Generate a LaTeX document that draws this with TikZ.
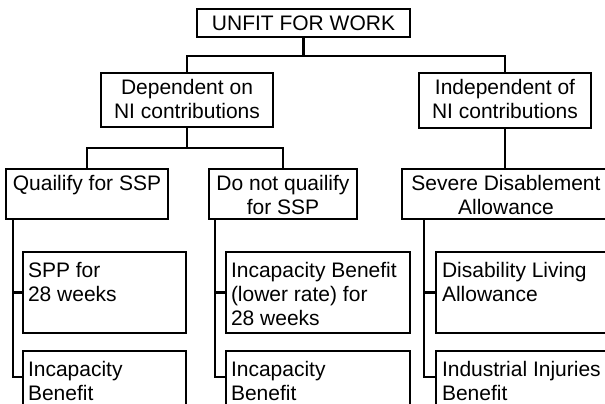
\documentclass[tikz,border=0pt]{standalone}
\usepackage{fontspec}
\setmainfont{Liberation Sans}
\newcommand\myst{\rule{0pt}{16pt}}
\tikzset{
  box/.style={draw, line width=1.1pt, inner sep=0pt, outer sep=0pt, anchor=north west},
  ctext/.style={anchor=north, inner sep=0pt, outer sep=0pt, align=center, font=\fontsize{21}{24}\selectfont},
  ltext/.style={anchor=north west, inner sep=0pt, outer sep=0pt, align=left, font=\fontsize{21}{24}\selectfont},
  conn/.style={draw, line width=2.6pt}
}
\begin{document}
\begin{tikzpicture}[x=1pt, y=-1pt]
\useasboundingbox (0,0) rectangle (605,404);
\clip (0,0) rectangle (605,404);
\fill[white] (0,0) rectangle (605,404);
% boxes
\node[box, minimum width=213pt, minimum height=28pt] (root) at (197,9) {};
\node[box, minimum width=172pt, minimum height=54pt] (dep) at (101,73) {};
\node[box, minimum width=172pt, minimum height=55pt] (ind) at (419,73) {};
\node[box, minimum width=162pt, minimum height=50pt] (qual) at (6,169) {};
\node[box, minimum width=148pt, minimum height=50pt] (donot) at (209,169) {};
\node[box, minimum width=208pt, minimum height=50pt] (sev) at (402,169) {};
\node[box, minimum width=163pt, minimum height=81pt] (a1) at (23,252) {};
\node[box, minimum width=163pt, minimum height=80pt] (a2) at (23,351) {};
\node[box, minimum width=184pt, minimum height=81pt] (b1) at (226,252) {};
\node[box, minimum width=184pt, minimum height=80pt] (b2) at (226,351) {};
\node[box, minimum width=190pt, minimum height=81pt] (c1) at (436,252) {};
\node[box, minimum width=190pt, minimum height=80pt] (c2) at (436,351) {};
% texts
\node[ctext] (troot) at ([yshift=-5.5pt]root.north) {\myst UNFIT FOR WORK};
\node[ctext] (tdep) at ([yshift=-5.5pt]dep.north) {\myst Dependent on\\NI contributions};
\node[ctext] (tind) at ([yshift=-5.5pt]ind.north) {\myst Independent of\\NI contributions};
\node[ctext] (tqual) at ([yshift=-5.5pt]qual.north) {\myst Quailify for SSP};
\node[ctext] (tdonot) at ([yshift=-5.5pt]donot.north) {\myst Do not quailify\\for SSP};
\node[ctext] (tsev) at ([yshift=-5.5pt]sev.north) {\myst Severe Disablement\\Allowance};
\node[ltext] (ta1) at ([xshift=5pt,yshift=-9pt]a1.north west) {\myst SPP for\\28 weeks};
\node[ltext] (ta2) at ([xshift=5pt,yshift=-9pt]a2.north west) {\myst Incapacity\\Benefit};
\node[ltext] (tb1) at ([xshift=5pt,yshift=-9pt]b1.north west) {\myst Incapacity Benefit\\(lower rate) for\\28 weeks};
\node[ltext] (tb2) at ([xshift=5pt,yshift=-9pt]b2.north west) {\myst Incapacity\\Benefit};
\node[ltext] (tc1) at ([xshift=6pt,yshift=-9pt]c1.north west) {\myst Disability Living\\Allowance};
\node[ltext] (tc2) at ([xshift=6pt,yshift=-9pt]c2.north west) {\myst Industrial Injuries\\Benefit};
% junctions
\coordinate (j0) at (303.5,56);
\coordinate (j1) at (187,148);
\coordinate (sa) at (13,219);
\coordinate (sb) at (215,219);
\coordinate (sc) at (424,219);
\coordinate (la) at (23,377);
\coordinate (lb) at (226,377);
\coordinate (lc) at (436,377);
% connectors
\draw[conn] (root.south) -- (j0);
\draw[conn] (dep.north) |- (j0) -| (ind.north);
\draw[conn] (dep.south) -- (j1);
\draw[conn] (qual.north) |- (j1) -| (donot.north);
\draw[conn] (ind.south) -- (ind.south |- sev.north);
\draw[conn] (sa) |- (a1.west);
\draw[conn] (sa) |- (la);
\draw[conn] (sb) |- (b1.west);
\draw[conn] (sb) |- (lb);
\draw[conn] (sc) |- (c1.west);
\draw[conn] (sc) |- (lc);
\end{tikzpicture}
\end{document}
